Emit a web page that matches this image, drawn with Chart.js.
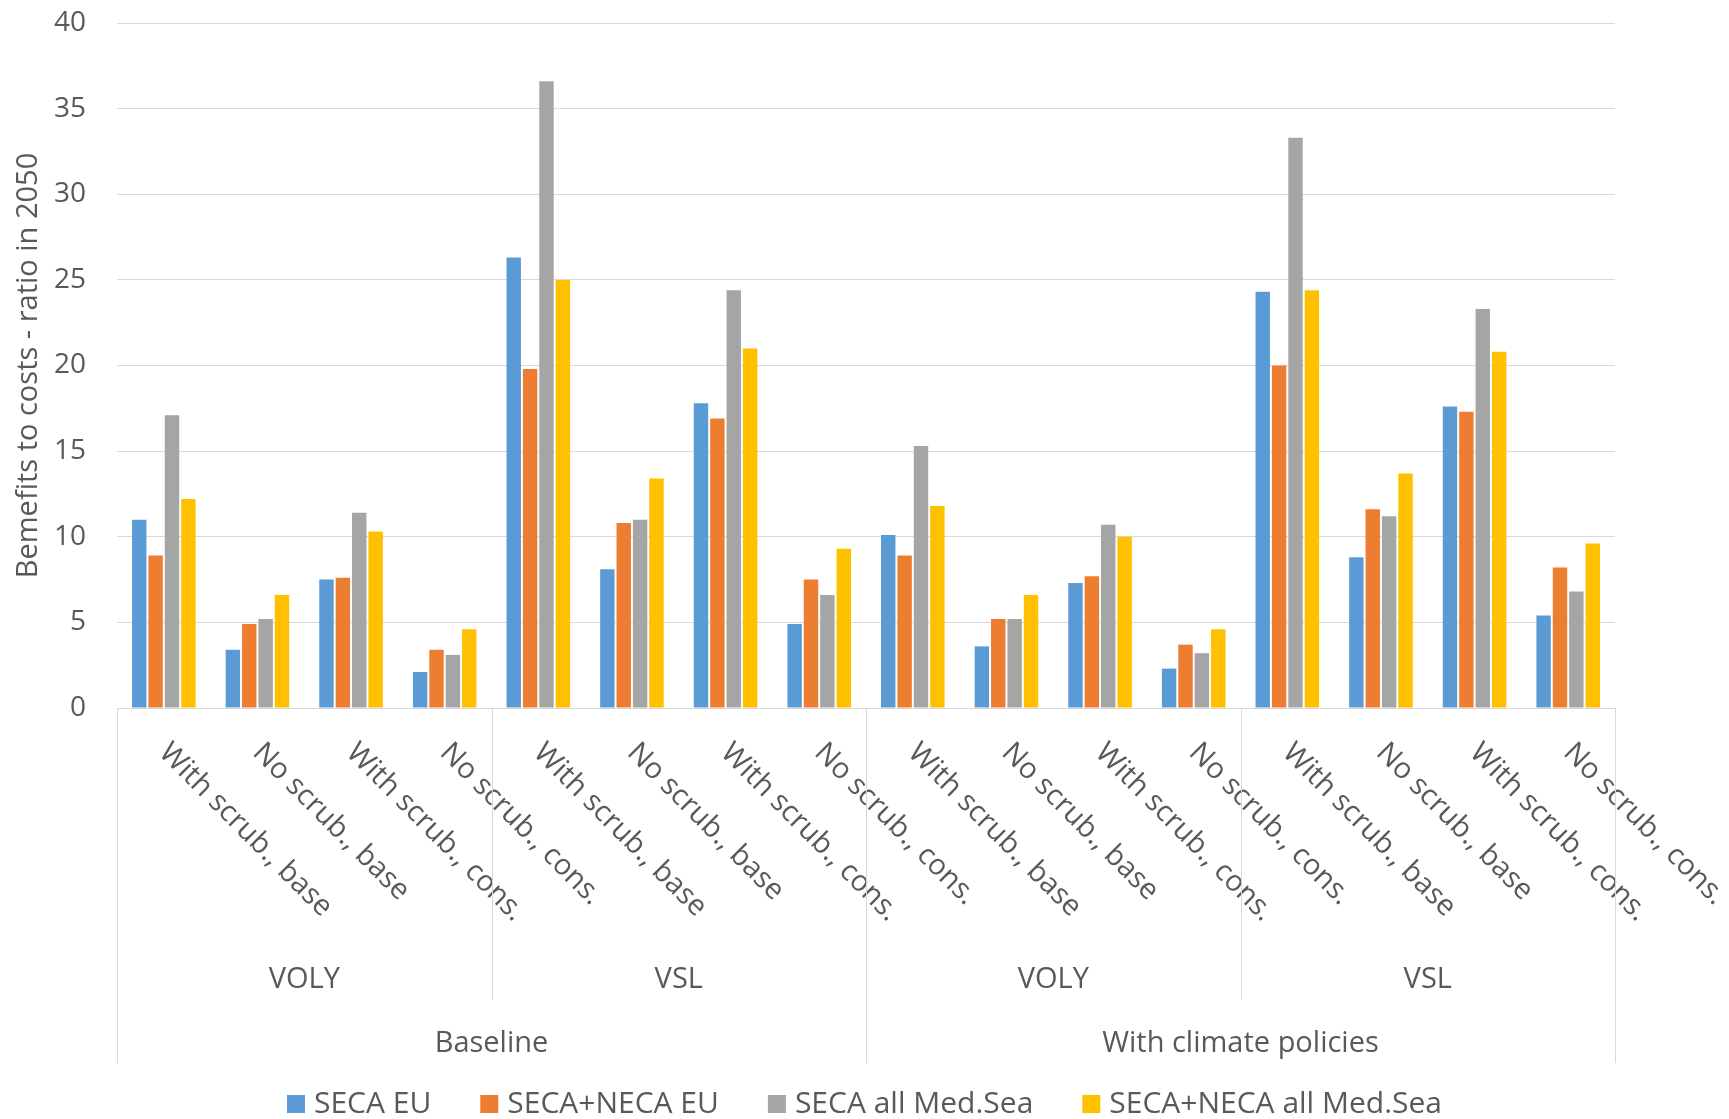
<!DOCTYPE html>
<html lang="en">
<head>
<meta charset="utf-8">
<title>Benefits to costs - ratio in 2050</title>
<script src="https://cdn.jsdelivr.net/npm/chart.js@4.4.1/dist/chart.umd.min.js"></script>
<style>
  html, body { margin: 0; padding: 0; background: #ffffff; }
  #contenedor { width: 1729px; height: 1119px; }
</style>
</head>
<body>
<div id="contenedor"><canvas id="grafico"></canvas></div>
<script>
// escenarios del eje X (primer nivel), se repiten en cada grupo
const escenarios = ['With scrub., base', 'No scrub., base', 'With scrub., cons.', 'No scrub., cons.'];
// segundo nivel: método de valoración
const metodos = ['VOLY', 'VSL', 'VOLY', 'VSL'];
// tercer nivel: escenario de política
const politicas = ['Baseline', 'With climate policies'];

// nombres de las series y sus colores
const series = ['SECA EU', 'SECA+NECA EU', 'SECA all Med.Sea', 'SECA+NECA all Med.Sea'];
const colores = ['#5b9bd5', '#ed7d31', '#a5a5a5', '#ffc000'];

// ratio beneficio/coste en 2050, en el orden de las 16 categorías
const secaEU        = [11.0, 3.4, 7.5, 2.1, 26.3,  8.1, 17.8, 4.9, 10.1, 3.6,  7.3, 2.3, 24.3,  8.8, 17.6, 5.4];
const secaNecaEU    = [ 8.9, 4.9, 7.6, 3.4, 19.8, 10.8, 16.9, 7.5,  8.9, 5.2,  7.7, 3.7, 20.0, 11.6, 17.3, 8.2];
const secaMed       = [17.1, 5.2, 11.4, 3.1, 36.6, 11.0, 24.4, 6.6, 15.3, 5.2, 10.7, 3.2, 33.3, 11.2, 23.3, 6.8];
const secaNecaMed   = [12.2, 6.6, 10.3, 4.6, 25.0, 13.4, 21.0, 9.3, 11.8, 6.6, 10.0, 4.6, 24.4, 13.7, 20.8, 9.6];

// eje Y: de 0 a 40 cada 5
const yMin = 0;
const yMax = 40;
const yPaso = 5;
const tituloY = 'Bemefits to costs - ratio in 2050';

const COLOR_TEXTO = '#595959';
const COLOR_LINEA = '#d9d9d9';
const FUENTE = '"Open Sans", sans-serif';

// 16 etiquetas: 4 escenarios x 4 grupos (política x método)
const etiquetas = metodos.flatMap(() => escenarios);
const valores = [secaEU, secaNecaEU, secaMed, secaNecaMed];

Chart.defaults.font.family = FUENTE;
Chart.defaults.color = COLOR_TEXTO;

/*
 * plugin que dibuja el eje X de varios niveles: escenarios girados 45°,
 * método (VOLY / VSL), política y las líneas separadoras, más la leyenda
 */
const ejeMultinivel = {
  id: 'ejeMultinivel',
  afterDraw(chart) {
    const { ctx, chartArea: area, scales: { x } } = chart;
    const base = area.bottom;
    ctx.save();
    ctx.fillStyle = COLOR_TEXTO;
    ctx.strokeStyle = COLOR_LINEA;
    ctx.lineWidth = 1;

    // escenarios girados
    ctx.font = '29px ' + FUENTE;
    etiquetas.forEach((txt, i) => {
      const px = x.getPixelForTick(i);
      ctx.save();
      ctx.translate(px - 6, base + 46);
      ctx.rotate(Math.PI / 4);
      ctx.textAlign = 'left';
      ctx.textBaseline = 'alphabetic';
      ctx.fillText(txt, 0, 0);
      ctx.restore();
    });

    // separadores verticales
    const linea = (valor, largo) => {
      const px = Math.round(x.getPixelForValue(valor)) + 0.5;
      ctx.beginPath();
      ctx.moveTo(px, base);
      ctx.lineTo(px, base + largo);
      ctx.stroke();
    };
    [-0.5, 7.5, 15.5].forEach(v => linea(v, 355));
    [3.5, 11.5].forEach(v => linea(v, 292));

    // etiquetas de método y de política
    ctx.textAlign = 'center';
    ctx.textBaseline = 'middle';
    metodos.forEach((m, j) => {
      ctx.fillText(m, x.getPixelForValue(j * 4 + 1.5), base + 272);
    });
    politicas.forEach((p, k) => {
      ctx.fillText(p, x.getPixelForValue(k * 8 + 3.5), base + 336);
    });

    // leyenda centrada bajo el gráfico
    ctx.font = '30px ' + FUENTE;
    const caja = 18, hueco = 9, separacion = 49;
    const items = chart.data.datasets.map(d => ({
      texto: d.label,
      color: d.backgroundColor,
      ancho: ctx.measureText(d.label).width
    }));
    const total = items.reduce((s, it) => s + caja + hueco + it.ancho, 0) + separacion * (items.length - 1);
    let cx = (chart.width - total) / 2;
    const cy = chart.height - 15;
    ctx.textAlign = 'left';
    items.forEach(it => {
      ctx.fillStyle = it.color;
      ctx.fillRect(cx, cy - caja / 2, caja, caja);
      ctx.fillStyle = COLOR_TEXTO;
      ctx.fillText(it.texto, cx + caja + hueco, cy);
      cx += caja + hueco + it.ancho + separacion;
    });
    ctx.restore();
  }
};

const ctx = document.getElementById('grafico').getContext('2d');

new Chart(ctx, {
  type: 'bar',
  data: {
    labels: etiquetas,
    datasets: series.map((nombre, i) => ({
      label: nombre,
      data: valores[i],
      backgroundColor: colores[i],
      borderWidth: 0,
      categoryPercentage: 0.70,
      barPercentage: 0.88
    }))
  },
  options: {
    responsive: true,
    maintainAspectRatio: false,
    animation: false,
    layout: {
      padding: { top: 23, right: 114, left: 0, bottom: 0 }
    },
    plugins: {
      legend: { display: false },
      tooltip: { enabled: false }
    },
    scales: {
      x: {
        ticks: { display: false },
        grid: { display: false },
        border: { display: true, color: COLOR_LINEA, width: 1 },
        afterFit(scale) { scale.height = 411; }
      },
      y: {
        min: yMin,
        max: yMax,
        ticks: { stepSize: yPaso, padding: 31, font: { size: 28 }, color: COLOR_TEXTO },
        grid: { color: COLOR_LINEA, lineWidth: 1, drawTicks: false },
        border: { display: false },
        title: {
          display: true,
          text: tituloY,
          font: { size: 29 },
          color: COLOR_TEXTO,
          padding: { top: 11, bottom: 0 }
        },
        afterFit(scale) {
          // ancho fijo y sin reserva extra arriba/abajo por el padding de las etiquetas
          scale.width = 117;
          scale.paddingTop = 0;
          scale.paddingBottom = 0;
        }
      }
    }
  },
  plugins: [ejeMultinivel]
});
</script>
</body>
</html>
